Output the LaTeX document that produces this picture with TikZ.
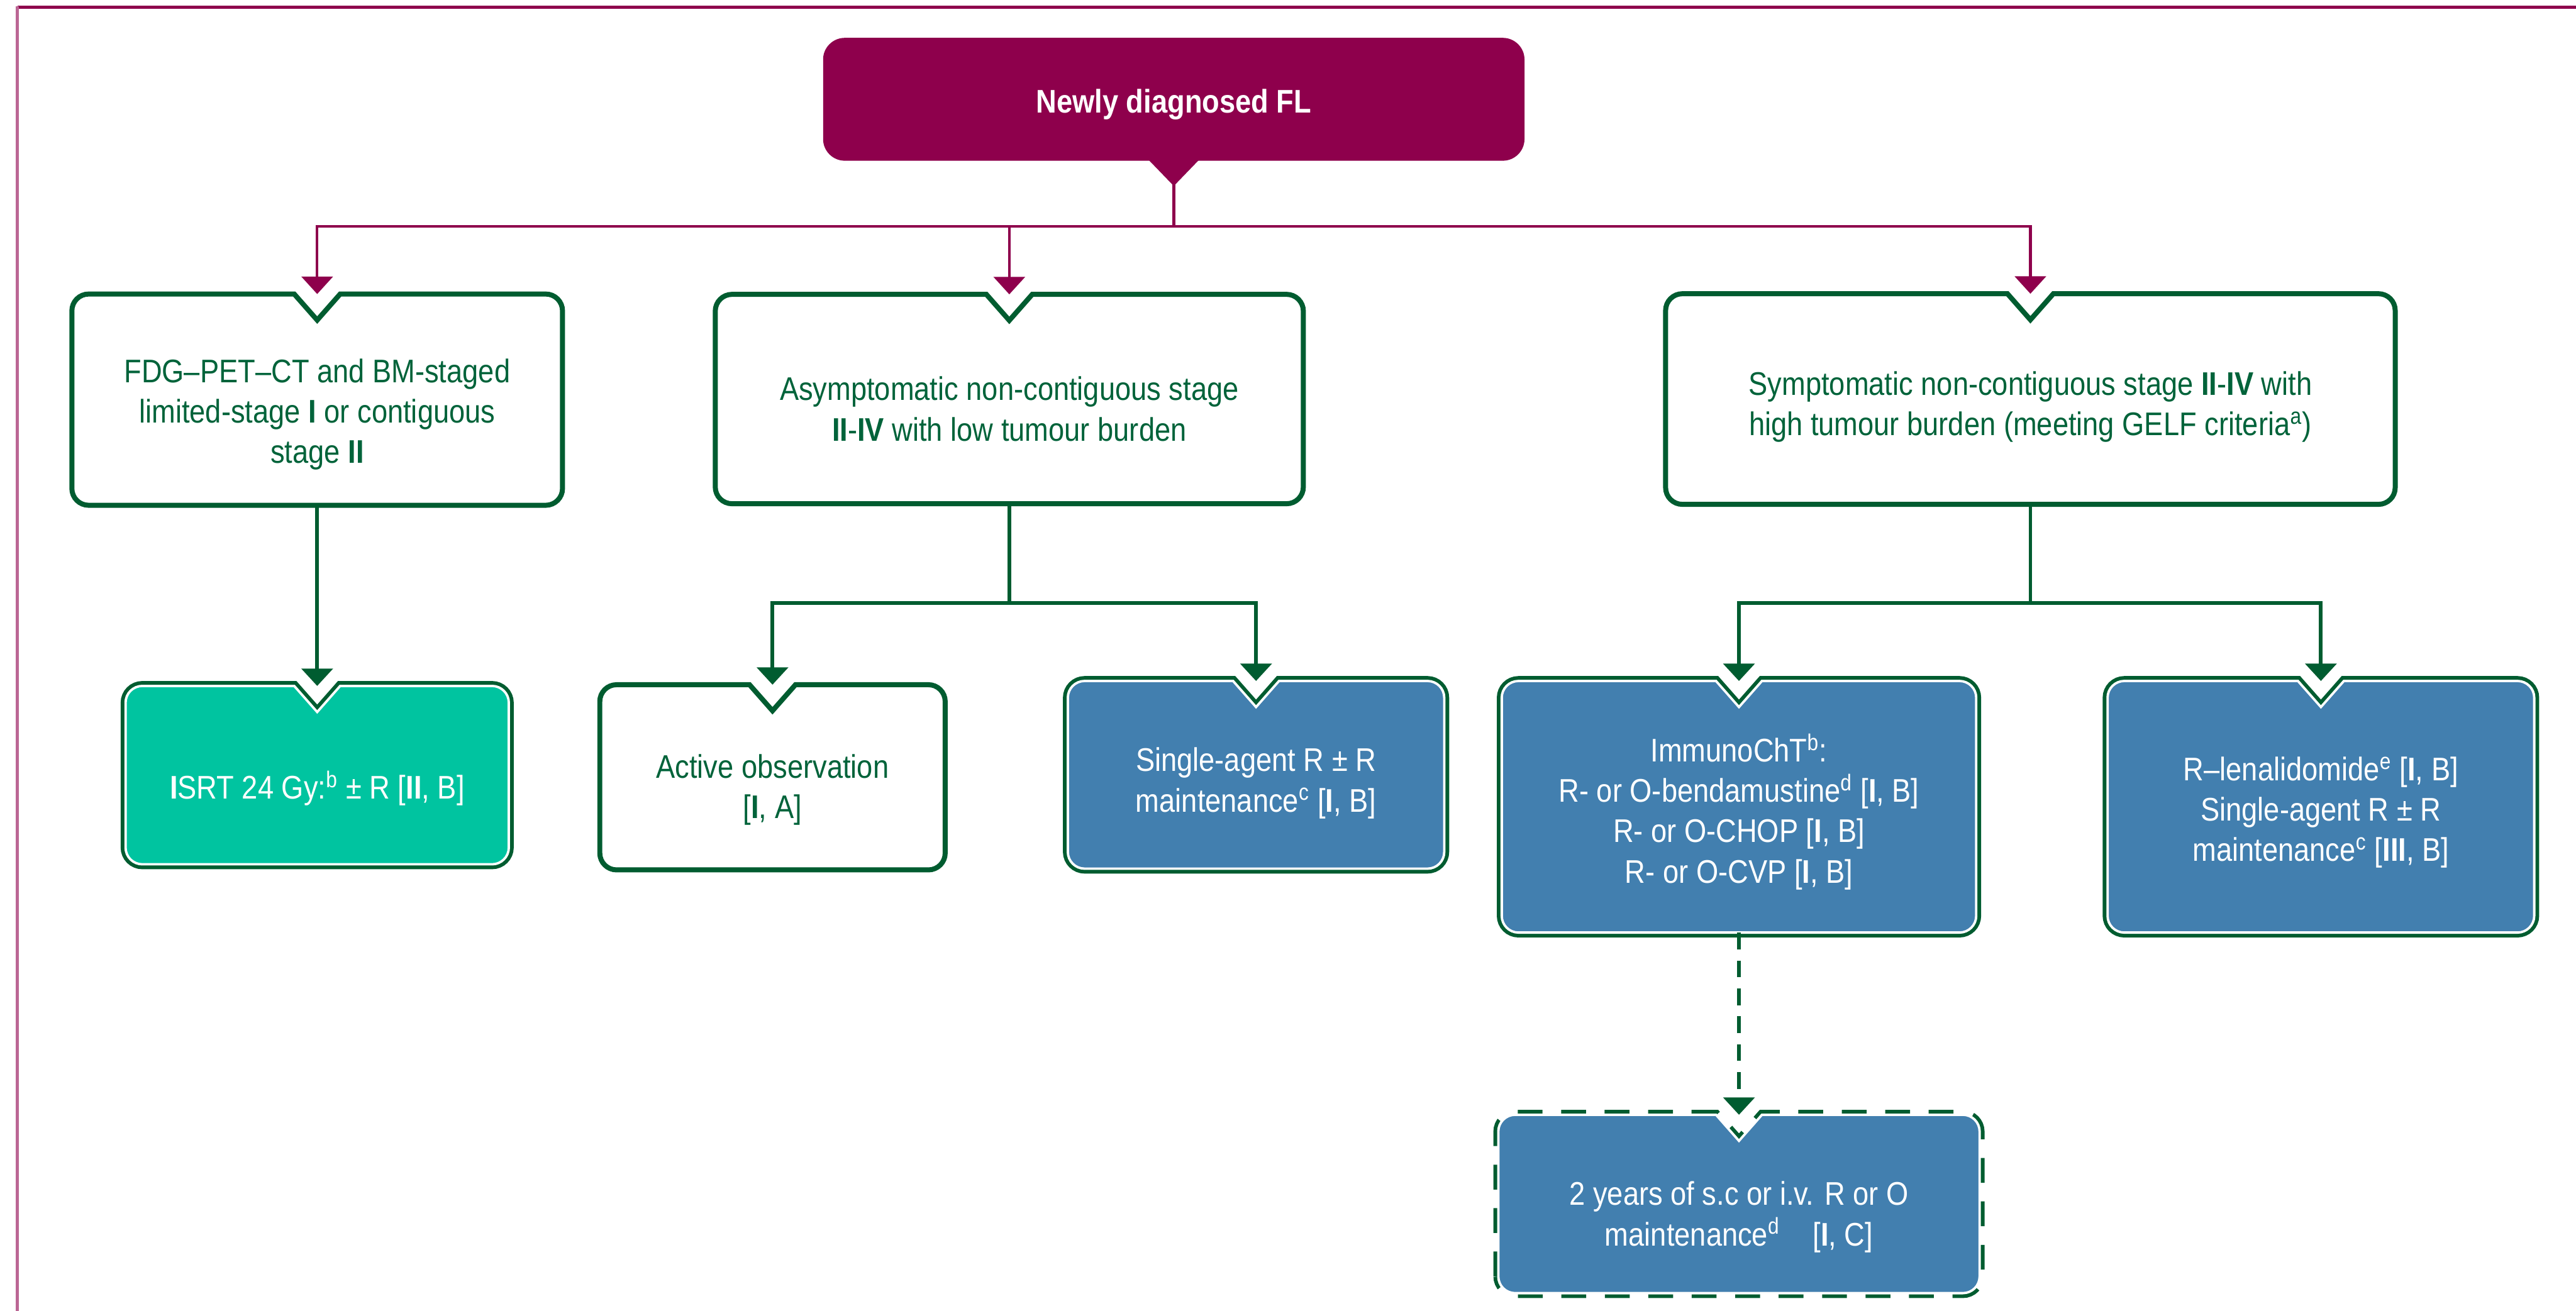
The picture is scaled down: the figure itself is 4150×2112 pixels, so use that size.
\documentclass[tikz,border=0pt]{standalone}
\usepackage{fontspec}
\setmainfont{Liberation Sans}[FakeStretch=0.87]
\usetikzlibrary{arrows.meta,calc,backgrounds}
\definecolor{flmag}{HTML}{8E004C}
\definecolor{flgreen}{HTML}{005C30}
\definecolor{fltext}{HTML}{00633A}
\definecolor{flteal}{HTML}{00C4A0}
\definecolor{flblue}{HTML}{427FAF}
\def\crad{2.7mm}
\def\nhw{3.7mm}
\def\ndp{4.2mm}
\newcommand\notchbox[2][]{%
  \path[#1] ($(#2.south west)+(0,\crad)$) -- ($(#2.north west)+(0,-\crad)$)
    arc[start angle=180,end angle=90,radius=\crad]
    -- ($(#2.north)+(-\nhw,0)$) -- ($(#2.north)+(0,-\ndp)$) -- ($(#2.north)+(\nhw,0)$)
    -- ($(#2.north east)+(-\crad,0)$) arc[start angle=90,end angle=0,radius=\crad]
    -- ($(#2.south east)+(0,\crad)$) arc[start angle=0,end angle=-90,radius=\crad]
    -- ($(#2.south west)+(\crad,0)$) arc[start angle=270,end angle=180,radius=\crad]
    -- cycle;}
\begin{document}
\begin{tikzpicture}[x=0.1mm,y=0.1mm,
  bx/.style={inner sep=0pt},
  txt/.style={inner sep=0pt,align=center,font=\fontsize{15}{18.5}\selectfont},
  gtxt/.style={txt,text=fltext},
  wtxt/.style={txt,text=white},
  wbox/.style={draw=flgreen,line width=2.3pt,fill=white},
  tbox/.style={fill=#1,draw=white,line width=1.1pt,preaction={draw=flgreen,line width=4.5pt}},
  magline/.style={flmag,line width=1.2pt},
  magarr/.style={magline,-{Triangle[width=5mm,length=2.8mm]}},
  grline/.style={flgreen,line width=1.7pt},
  grarr/.style={grline,-{Triangle[width=5mm,length=2.8mm]}}]
 \useasboundingbox (0,-2112) rectangle (4150,0);

 % frame
 \draw[flmag,line width=1.4pt] (28,-12) -- (4150,-12);
 \draw[flmag!60,line width=1.4pt] (28,-10) -- (28,-2112);

 % top
 \node[bx,fill=flmag,rounded corners=3.5mm,minimum width=113mm,minimum height=19.8mm]
   (fl) at (1891,-160) {};
 \node[wtxt,font=\fontsize{15}{18.5}\selectfont\bfseries] (fltext) at (1891,-168) {Newly diagnosed FL};
 \fill[flmag] ($(fl.south)+(-4.15mm,0.3mm)$) -- ($(fl.south)+(0,-4mm)$)
   -- ($(fl.south)+(4.15mm,0.3mm)$) -- cycle;

 % first row
 \node[bx,minimum width=78.9mm,minimum height=33.9mm] (stageI) at (511,-644) {};
 \node[bx,minimum width=94.6mm,minimum height=33.6mm] (low) at (1626,-643) {};
 \node[bx,minimum width=117.4mm,minimum height=33.8mm] (high) at (3271,-643) {};

 \node[gtxt] (stageItext) at (511,-668)
   {FDG--PET--CT and BM-staged\\limited-stage \textbf{I} or contiguous\\stage \textbf{II}};
 \node[gtxt] (lowtext) at (1626,-659)
   {Asymptomatic non-contiguous stage\\\textbf{II}-\textbf{IV} with low tumour burden};
 \node[gtxt] (hightext) at (3271,-656)
   {Symptomatic non-contiguous stage \textbf{II}-\textbf{IV} with\\high tumour burden (meeting GELF criteria\textsuperscript{a})};

 % second row
 \node[bx,minimum width=61.6mm,minimum height=28.6mm] (isrt) at (511,-1249) {};
 \node[bx,minimum width=55.5mm,minimum height=29.7mm] (obs) at (1244.5,-1252.5) {};
 \node[bx,minimum width=60.5mm,minimum height=30.1mm] (single) at (2023.5,-1248.5) {};
 \node[bx,minimum width=76.3mm,minimum height=40.4mm] (chemo) at (2801.5,-1300) {};
 \node[bx,minimum width=68.6mm,minimum height=40.4mm] (lena) at (3739,-1300) {};
 \node[bx,minimum width=77.4mm,minimum height=28.6mm] (maint) at (2801.5,-1940) {};

 \begin{pgfonlayer}{background}
  \fill[white] (0,-2112) rectangle (4150,0);
  \notchbox[wbox]{stageI}
  \notchbox[wbox]{low}
  \notchbox[wbox]{high}
  \notchbox[wbox]{obs}
  \notchbox[tbox=flteal]{isrt}
  \notchbox[tbox=flblue]{single}
  \notchbox[tbox=flblue]{chemo}
  \notchbox[tbox=flblue]{lena}
  \notchbox[fill=flblue,draw=white,line width=1.1pt,
    preaction={draw=flgreen,line width=4.5pt,dash pattern=on 4mm off 3mm}]{maint}
 \end{pgfonlayer}

 \node[wtxt] (isrttext) at (511,-1270)
   {\textbf{I}SRT 24 Gy:\textsuperscript{b} ± R [\textbf{II}, B]};
 \node[gtxt] (obstext) at (1244.5,-1273)
   {Active observation\\{}[\textbf{I}, A]};
 \node[wtxt] (singletext) at (2023.5,-1262)
   {Single-agent R ± R\\maintenance\textsuperscript{c} [\textbf{I}, B]};
 \node[wtxt] (chemotext) at (2801.5,-1308)
   {ImmunoChT\textsuperscript{b}:\\R- or O-bendamustine\textsuperscript{d} [\textbf{I}, B]\\R- or O-CHOP [\textbf{I}, B]\\R- or O-CVP [\textbf{I}, B]};
 \node[wtxt] (lenatext) at (3739,-1309)
   {R--lenalidomide\textsuperscript{e} [\textbf{I}, B]\\Single-agent R ± R\\maintenance\textsuperscript{c} [\textbf{III}, B]};
 \node[wtxt] (mainttext) at (2801.5,-1961)
   {2 years of s.c or i.v. R or O\\maintenance\textsuperscript{d}\quad[\textbf{I}, C]};

 % connectors
 \coordinate (split) at (1891,-365);
 \draw[magline] ($(fl.south)+(0,-3.5mm)$) -- (split);
 \foreach \n in {stageI,low,high} \draw[magarr] (split) -| (\n.north);

 \draw[grarr] (stageI.south) -- (isrt.north);

 \coordinate (lowsplit) at (1626,-972);
 \draw[grline] (low.south) -- (lowsplit);
 \draw[grarr] (lowsplit) -| (obs.north);
 \draw[grarr] (lowsplit) -| (single.north);

 \coordinate (highsplit) at (3271,-972);
 \draw[grline] (high.south) -- (highsplit);
 \draw[grarr] (highsplit) -| (chemo.north);
 \draw[grarr] (highsplit) -| (lena.north);

 \draw[grarr,dash pattern=on 2.7mm off 1.8mm] (chemo.south) -- (maint.north);
\end{tikzpicture}
\end{document}
